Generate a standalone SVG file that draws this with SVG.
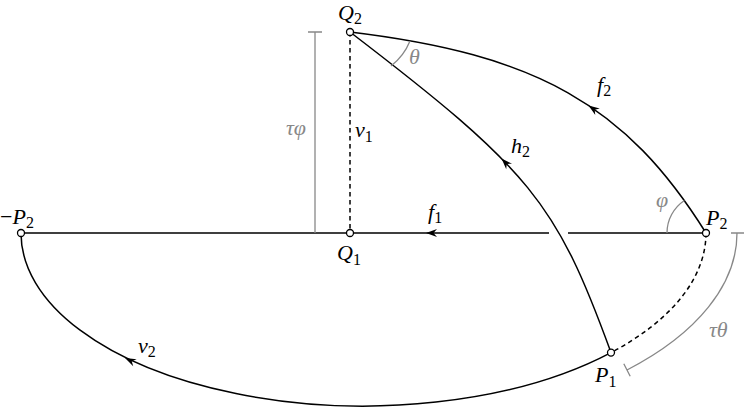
<svg xmlns="http://www.w3.org/2000/svg" xmlns:xlink="http://www.w3.org/1999/xlink" width="747" height="407" viewBox="0 0 747 407">
<style>
.ln{fill:none;stroke:#000;stroke-width:1.5}
.dash{stroke-dasharray:4.5 3.5}
.gr{fill:none;stroke:#888;stroke-width:1.3}
.nd{fill:#fff;stroke:#000;stroke-width:1.3}
.lb{font-family:'Liberation Serif','Times New Roman',serif;font-style:italic;font-size:22px;fill:#000}
.gl{fill:#888}
.sb{font-style:normal;font-size:16px}
</style>
<defs>
<path id="ah" d="M0,0 L-11,-4 L-7.5,0 L-11,4 Z" fill="#000"/>
</defs>
<rect width="747" height="407" fill="#fff"/>
<g id="connectors">
<path class="ln" d="M21,233 H549 M568,233 H706"/>
<path class="ln dash" d="M350,32 V233"/>
<path class="ln" d="M350,32 C536.8,54.4 625.8,104.7 706,233"/>
<path class="ln" d="M611,352.6 C556.4,202.2 530.3,170 350,32"/>
<path class="ln dash" d="M706,233 A342.5 173 0 0 1 611,352.6"/>
<path class="ln" d="M611,352.6 A342.5 173 0 0 1 21,233"/>
<use xlink:href="#ah" transform="translate(426,233) rotate(180)"/>
<use xlink:href="#ah" transform="translate(588.5,105.5) rotate(214.7)"/>
<use xlink:href="#ah" transform="translate(501.5,158.5) rotate(226.1)"/>
<use xlink:href="#ah" transform="translate(125,358) rotate(205.5)"/>
</g>
<g id="annotations">
<path class="gr" d="M315,32 V233 M308,32 H322"/>
<path class="gr" d="M737,233 A373.5 193.3 0 0 1 627,370 M731,233 H744 M623.8,363.8 L630.2,376.2"/>
<path class="gr" d="M410,41 A60 60 0 0 1 391,66"/>
<path class="gr" d="M667,233 A39 39 0 0 1 684.4,200.5"/>
<text class="lb gl" x="286" y="135">τφ</text>
<text class="lb gl" x="409" y="64">θ</text>
<text class="lb gl" x="656" y="207">φ</text>
<text class="lb gl" x="709" y="337">τθ</text>
</g>
<g id="edge-labels">
<text class="lb" x="428" y="219">f<tspan class="sb" dy="4">1</tspan></text>
<text class="lb" x="355" y="137">v<tspan class="sb" dy="5">1</tspan></text>
<text class="lb" x="597" y="92">f<tspan class="sb" dy="4">2</tspan></text>
<text class="lb" x="511" y="153">h<tspan class="sb" dy="4">2</tspan></text>
<text class="lb" x="138" y="353">v<tspan class="sb" dy="4">2</tspan></text>
</g>
<g id="node-Q2"><circle class="nd" cx="350" cy="32" r="3.5"/><text class="lb" x="338" y="20">Q<tspan class="sb" dy="4">2</tspan></text></g>
<g id="node-Q1"><circle class="nd" cx="350" cy="233" r="3.5"/><text class="lb" x="337" y="260">Q<tspan class="sb" dy="5">1</tspan></text></g>
<g id="node-P2"><circle class="nd" cx="706" cy="233" r="3.5"/><text class="lb" x="706" y="225">P<tspan class="sb" dy="4">2</tspan></text></g>
<g id="node-mP2"><circle class="nd" cx="21" cy="233" r="3.5"/><text class="lb" x="0" y="224"><tspan font-style="normal">−</tspan>P<tspan class="sb" dy="4">2</tspan></text></g>
<g id="node-P1"><circle class="nd" cx="611" cy="352.6" r="3.5"/><text class="lb" x="595" y="382">P<tspan class="sb" dy="5">1</tspan></text></g>
</svg>
